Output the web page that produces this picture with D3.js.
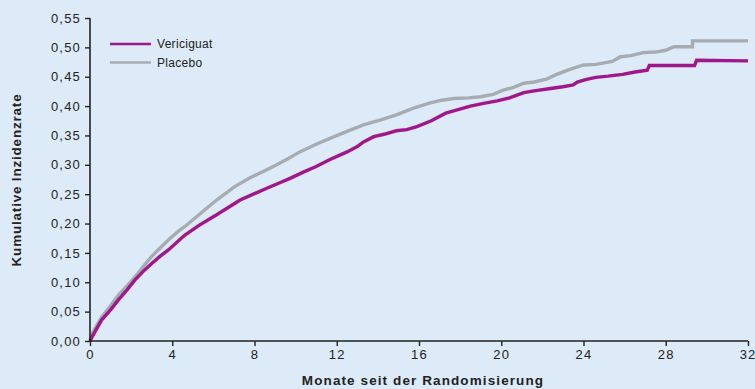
<!DOCTYPE html>
<html><head><meta charset="utf-8">
<script src="https://cdn.jsdelivr.net/npm/d3@7"></script>
<style>
html,body{margin:0;padding:0;background:#ddeaf7;}
svg{display:block;}
text{font-family:"Liberation Sans",Arial,sans-serif;fill:#222;}
</style></head><body>
<svg id="chart" width="755" height="389"></svg>
<script>
const seriesNames = ["Vericiguat", "Placebo"];
const seriesColors = ["#a0178c", "#a7acb3"];

const verMonths = [0,0.1,0.57,1.0,1.38,1.8,2.19,2.6,3.0,3.4,3.81,4.6,5.3,6.16,6.8,7.3,8.0,8.6,9.2,9.73,10.4,11.0,11.67,12.5,13.0,13.3,13.8,14.3,14.9,15.4,15.9,16.6,17.3,17.9,18.5,19.2,19.8,20.4,21.1,21.6,22.4,23.0,23.5,23.7,24.1,24.6,25.2,25.9,26.5,27.1,27.2,29.4,29.5,32];
const verValues = [0,0.007,0.036,0.053,0.070,0.087,0.104,0.119,0.132,0.144,0.155,0.180,0.197,0.215,0.229,0.240,0.251,0.260,0.269,0.277,0.288,0.297,0.309,0.322,0.331,0.339,0.348,0.352,0.358,0.360,0.365,0.375,0.388,0.394,0.400,0.405,0.409,0.414,0.423,0.426,0.430,0.433,0.436,0.441,0.445,0.449,0.451,0.454,0.458,0.461,0.469,0.469,0.478,0.477];

const plaMonths = [0,0.1,0.57,1.0,1.38,1.8,2.19,2.6,3.0,3.4,3.81,4.3,4.62,5.2,5.6,6.16,7.0,7.78,8.5,9.08,9.6,10.2,11.0,11.67,12.5,13.3,14.1,14.9,15.7,16.5,17.1,17.7,18.4,19.0,19.6,20.1,20.6,21.1,21.6,22.2,22.7,23.3,24.0,24.6,25.4,25.8,26.3,26.9,27.5,28.0,28.4,28.9,29.3,29.3,32];
const plaValues = [0,0.013,0.041,0.060,0.078,0.094,0.109,0.127,0.144,0.158,0.172,0.187,0.195,0.212,0.224,0.240,0.262,0.278,0.290,0.300,0.310,0.322,0.335,0.345,0.357,0.368,0.376,0.385,0.396,0.405,0.410,0.413,0.414,0.416,0.420,0.427,0.432,0.439,0.441,0.446,0.454,0.462,0.470,0.471,0.476,0.484,0.486,0.491,0.492,0.495,0.501,0.501,0.501,0.511,0.511];

const xTicks = [0,4,8,12,16,20,24,28,32];
const yTicks = [0,0.05,0.10,0.15,0.20,0.25,0.30,0.35,0.40,0.45,0.50,0.55];
const yTickLabels = ["0,00","0,05","0,10","0,15","0,20","0,25","0,30","0,35","0,40","0,45","0,50","0,55"];
const xTitle = "Monate seit der Randomisierung";
const yTitle = "Kumulative Inzidenzrate";

const svg = d3.select("#chart");
const x = d3.scaleLinear().domain([0,32]).range([90,748]);
const y = d3.scaleLinear().domain([0,0.55]).range([341,18]);

const series = [
  {name: seriesNames[1], color: seriesColors[1], pts: plaMonths.map((m,i)=>[m,plaValues[i]])},
  {name: seriesNames[0], color: seriesColors[0], pts: verMonths.map((m,i)=>[m,verValues[i]])}
];
const line = d3.line().x(d=>x(d[0])).y(d=>y(d[1])).curve(d3.curveLinear);
svg.selectAll("path.series").data(series).join("path")
  .attr("class","series")
  .attr("d", d=>line(d.pts))
  .attr("fill","none").attr("stroke", d=>d.color).attr("stroke-width",3.4)
  .attr("stroke-linejoin","miter");

// axes
const xAxis = d3.axisBottom(x).tickValues(xTicks).tickSize(5).tickPadding(4).tickFormat(d3.format("d"));
const gx = svg.append("g").attr("transform","translate(0,341)").call(xAxis);
const yAxis = d3.axisLeft(y).tickValues(yTicks).tickSize(5).tickPadding(4).tickFormat((d,i)=>yTickLabels[i]);
const gy = svg.append("g").attr("transform","translate(90,0)").call(yAxis);
[gx,gy].forEach(g=>{
  g.select(".domain").attr("stroke","#222").attr("stroke-width",1.6);
  g.selectAll(".tick line").attr("stroke","#222").attr("stroke-width",1.4);
  g.selectAll(".tick text").attr("font-size",13).attr("letter-spacing","1.2px").style("font-family","'Liberation Sans',Arial,sans-serif").attr("fill","#222");
});
gx.select(".domain").attr("d","M90,0H748");
gy.select(".domain").attr("d","M0,18V341");
// last x tick label kept inside the picture, as in the reference
gx.selectAll(".tick text").filter(d=>d===32).attr("text-anchor","end").attr("dx","8");

// titles
svg.append("text").attr("x",423).attr("y",385).attr("text-anchor","middle")
  .attr("font-size",13.5).attr("font-weight","bold").attr("letter-spacing","1.1px").text(xTitle);
svg.append("text").attr("transform","translate(21,180) rotate(-90)").attr("text-anchor","middle")
  .attr("font-size",13.5).attr("font-weight","bold").attr("letter-spacing","0.8px").text(yTitle);

// legend
const legend = svg.append("g");
const legItems = [{name: seriesNames[0], color: seriesColors[0]},{name: seriesNames[1], color: seriesColors[1]}];
legItems.forEach((d,i)=>{
  const yy = 44 + i*18.5;
  legend.append("line").attr("x1",110).attr("x2",151).attr("y1",yy).attr("y2",yy)
    .attr("stroke",d.color).attr("stroke-width",2.4);
  legend.append("text").attr("x",157).attr("y",yy+4).attr("font-size",12).attr("letter-spacing","0.3px").text(d.name);
});
</script>
</body></html>
